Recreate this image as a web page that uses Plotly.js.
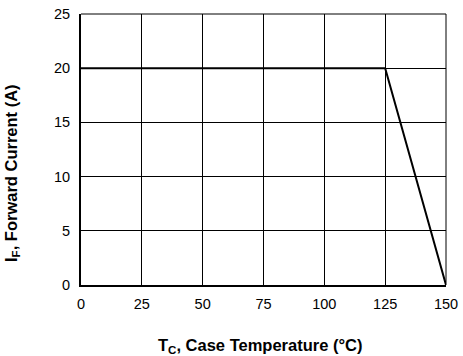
<!DOCTYPE html>
<html><head><meta charset="utf-8">
<script src="https://cdn.plot.ly/plotly-3.0.1.min.js"></script>
<style>html,body{margin:0;padding:0;background:#fff}</style>
</head><body>
<div id="chart" style="width:463px;height:356px"></div>
<script>
const caseTemp = [0, 125, 150];
const forwardCurrent = [20, 20, 0];
const xTicks = [0, 25, 50, 75, 100, 125, 150];
const yTicks = [0, 5, 10, 15, 20, 25];

const font = {family: 'Liberation Sans, Arial, sans-serif', color: '#000'};
Plotly.newPlot('chart', [{
  x: caseTemp, y: forwardCurrent, type: 'scatter', mode: 'lines',
  line: {color: '#000', width: 2}, hoverinfo: 'skip'
}], {
  width: 463, height: 356,
  margin: {l: 81, r: 17, t: 14, b: 71},
  paper_bgcolor: '#fff', plot_bgcolor: '#fff',
  showlegend: false,
  font: Object.assign({size: 14}, font),
  xaxis: {
    range: [0, 150], tickvals: xTicks, ticktext: xTicks.map(String),
    showgrid: true, gridcolor: '#000', gridwidth: 1,
    showline: true, linecolor: '#000', linewidth: 2, mirror: false,
    zeroline: false, ticks: '', ticklen: 0, ticklabelstandoff: 5,
    tickfont: Object.assign({size: 14.5}, font)
  },
  yaxis: {
    range: [0, 25], tickvals: yTicks, ticktext: yTicks.map(String),
    showgrid: true, gridcolor: '#000', gridwidth: 1,
    showline: true, linecolor: '#000', linewidth: 2,
    zeroline: false, ticks: '', ticklen: 0, ticklabelstandoff: 6,
    tickfont: Object.assign({size: 14.5}, font)
  },
  annotations: [
    {text: '<b>T<sub>C</sub>, Case Temperature (°C)</b>', xref: 'paper', yref: 'paper',
     x: 0.49, y: (285 - 346) / 271, xanchor: 'center', yanchor: 'middle', showarrow: false,
     font: Object.assign({size: 16.5}, font)},
    {text: '<b>I<sub>F</sub>, Forward Current (A)</b>', xref: 'paper', yref: 'paper',
     x: (12 - 81) / 365, y: (285 - 173) / 271, xanchor: 'center', yanchor: 'middle', textangle: -90,
     showarrow: false, font: Object.assign({size: 16.5}, font)}
  ],
  shapes: [
    {type: 'line', xref: 'paper', yref: 'paper', x0: 1, x1: 1, y0: 0, y1: 1, line: {color: '#000', width: 1}},
    {type: 'line', xref: 'paper', yref: 'paper', x0: 0, x1: 1, y0: 1, y1: 1, line: {color: '#000', width: 1}}
  ]
}, {displayModeBar: false, staticPlot: true});
</script>
</body></html>
